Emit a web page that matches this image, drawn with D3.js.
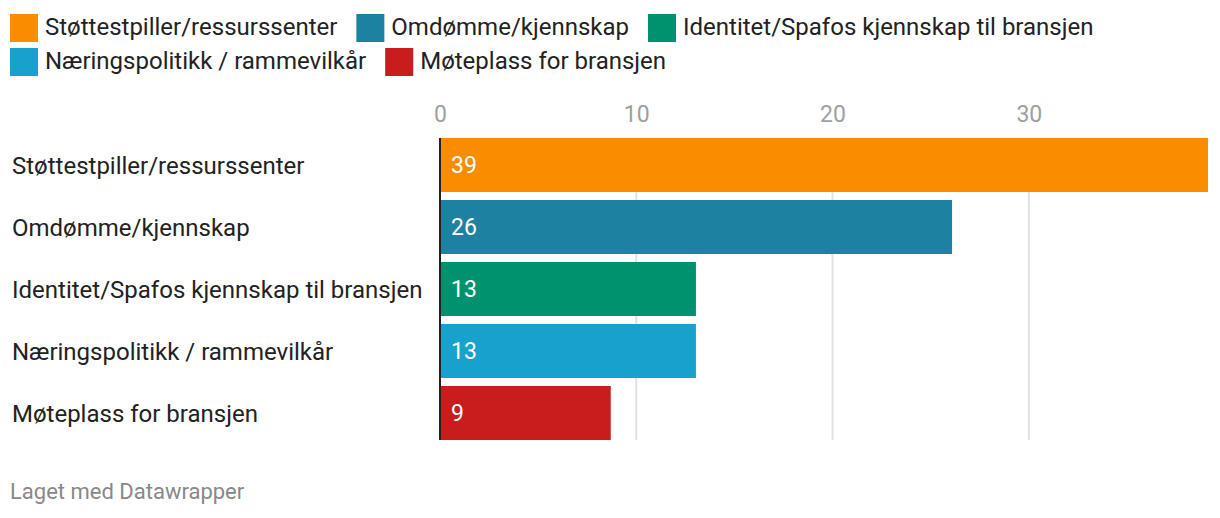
<!DOCTYPE html>
<html><head><meta charset="utf-8">
<script src="https://cdn.jsdelivr.net/npm/d3@7"></script>
<style>
html,body{margin:0;padding:0;background:#fff;}
svg{display:block;font-family:Roboto,"Noto Sans",sans-serif;}
</style></head>
<body>
<svg id="chart" width="1220" height="518"></svg>
<script>
const categories = ["Støttestpiller/ressurssenter","Omdømme/kjennskap","Identitet/Spafos kjennskap til bransjen","Næringspolitikk / rammevilkår","Møteplass for bransjen"];
const values = [39.13, 26.09, 13.04, 13.04, 8.70];
const colors = ["#fa8c00","#1d81a2","#00916f","#18a1cd","#c71e1d"];
const ticks = [0, 10, 20, 30];
const footer = "Laget med Datawrapper";

const svg = d3.select("#chart");

// Legend
const legend = svg.append("g");
let lx = 10, ly = 14;
const rowH = 34;
categories.forEach((c, i) => {
  const g = legend.append("g");
  g.append("rect").attr("width", 28).attr("height", 28).attr("fill", colors[i]);
  const t = g.append("text").attr("x", 35).attr("y", 20.5)
    .attr("font-size", 24).attr("fill", "#222").text(c);
  const w = 35 + t.node().getComputedTextLength();
  if (lx + w > 1215) { lx = 10; ly += rowH; }
  g.attr("transform", `translate(${lx},${ly})`);
  lx += w + 19;
});

// Scales
const x = d3.scaleLinear().domain([0, d3.max(values)]).range([440, 1208]);
const y = d3.scaleBand().domain(categories).range([138, 440]).paddingInner(8/62).paddingOuter(0);

// Tick labels
const axis = d3.axisTop(x).tickValues(ticks).tickSize(0).tickPadding(0);
const ag = svg.append("g").attr("transform", "translate(0,122)").call(axis);
ag.select(".domain").remove();
ag.selectAll("text").attr("font-size", 23).attr("fill", "#a0a0a0")
  .attr("font-family", "Roboto").attr("dy", "0").attr("y", 0);

// Gridlines
svg.append("g").selectAll("line").data(ticks.filter(d => d > 0)).join("line")
  .attr("x1", d => x(d)).attr("x2", d => x(d)).attr("y1", 138).attr("y2", 440)
  .attr("stroke", "#e2e2e2").attr("stroke-width", 2);

// Bars
svg.append("g").selectAll("rect").data(values).join("rect")
  .attr("x", x(0)).attr("y", (d, i) => y(categories[i]))
  .attr("width", d => x(d) - x(0)).attr("height", y.bandwidth())
  .attr("fill", (d, i) => colors[i]);

// Baseline
svg.append("line").attr("x1", x(0)).attr("x2", x(0)).attr("y1", 138).attr("y2", 440)
  .attr("stroke", "#222").attr("stroke-width", 2);

// Value labels
svg.append("g").selectAll("text").data(values).join("text")
  .attr("x", x(0) + 11).attr("y", (d, i) => y(categories[i]) + y.bandwidth() / 2 + 7.5)
  .attr("font-size", 23).attr("fill", "#fff")
  .text(d => d3.format(".0f")(d));

// Category labels
svg.append("g").selectAll("text").data(categories).join("text")
  .attr("x", 12).attr("y", d => y(d) + y.bandwidth() / 2 + 9)
  .attr("font-size", 24).attr("fill", "#222").text(d => d);

// Footer
svg.append("text").attr("x", 10).attr("y", 499)
  .attr("font-size", 22).attr("fill", "#888").text(footer);
</script>
</body></html>
